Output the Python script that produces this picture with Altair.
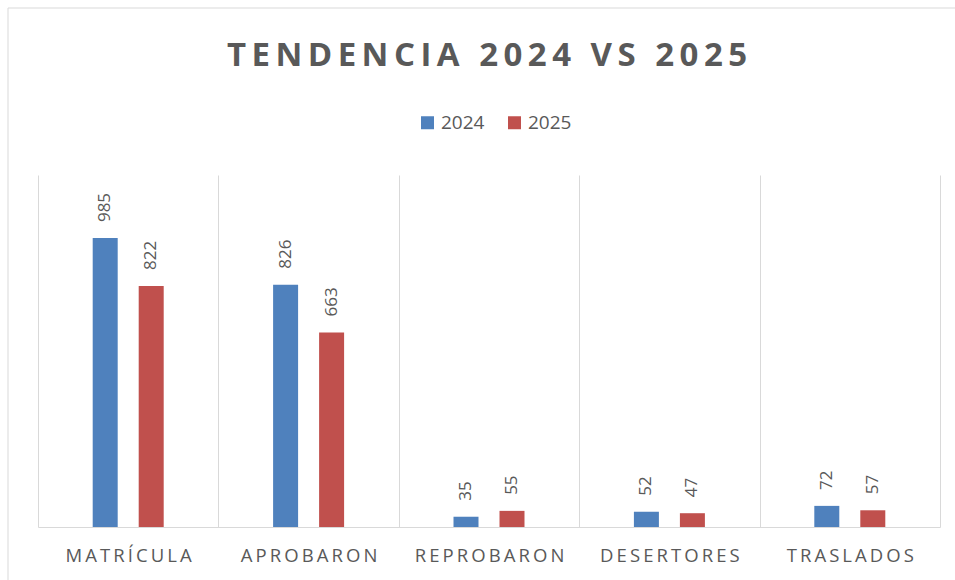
import altair as alt
import pandas as pd

categories = ["MATRÍCULA", "APROBARON", "REPROBARON", "DESERTORES", "TRASLADOS"]
values_2024 = [985, 826, 35, 52, 72]
values_2025 = [822, 663, 55, 47, 57]
years = ["2024", "2025"]
colors = ["#4F81BD", "#C0504D"]
title_text = "TENDENCIA 2024 VS 2025"

rows = []
for c, a, b in zip(categories, values_2024, values_2025):
    rows.append({"categoria": c, "anio": years[0], "valor": a})
    rows.append({"categoria": c, "anio": years[1], "valor": b})
df = pd.DataFrame(rows)

TS = "\u2009"
FONT = "Open Sans"
GRAY = "#595959"
GRID = "#D9D9D9"

x = alt.X(
    "categoria:N",
    sort=categories,
    scale=alt.Scale(paddingInner=0, paddingOuter=0),
    axis=alt.Axis(
        title=None, labelAngle=0, ticks=False, tickSize=0, tickBand="extent",
        grid=True, gridColor=GRID, gridWidth=1, domainColor=GRID, domainWidth=1,
        labelFontSize=18.5, labelColor=GRAY, labelFont=FONT, labelPadding=19,
        labelBaseline="top", labelExpr="join(split(datum.label, ''), '" + TS + "')",
    ),
)
y = alt.Y("valor:Q", scale=alt.Scale(domain=[0, 1200], nice=False), axis=None)
xo = alt.XOffset(
    "anio:N", sort=years,
    scale=alt.Scale(range=[54.7, 125.7], paddingInner=0.4565, paddingOuter=0),
)

base = alt.Chart(df).encode(x=x, xOffset=xo, y=y)

bars = base.mark_bar().encode(
    color=alt.Color(
        "anio:N",
        scale=alt.Scale(domain=years, range=colors),
        legend=alt.Legend(
            title=None, orient="none", legendX=380, legendY=-62, direction="horizontal",
            symbolType="square", symbolSize=169, symbolStrokeWidth=0,
            labelFontSize=19, labelFont=FONT, labelColor=GRAY,
            columnPadding=20, labelOffset=4, padding=0,
        ),
    )
)

labels = base.mark_text(
    angle=270, align="left", baseline="middle", dx=16,
    font=FONT, fontSize=17, color=GRAY,
).encode(text="valor:Q")

frame = alt.Chart(pd.DataFrame({"k": [0]})).mark_rect(
    fill="transparent", stroke=GRID, strokeWidth=1
).encode(x=alt.value(-30), y=alt.value(-167), x2=alt.value(940), y2=alt.value(420))

chart = alt.layer(frame, bars, labels).properties(
    width=902,
    height=352,
    title=alt.Title(
        TS.join(title_text), font=FONT, fontSize=33, fontWeight="bold", color=GRAY,
        anchor="middle", frame="group", offset=-91, baseline="alphabetic", dx=-2,
    ),
    padding={"left": 38, "top": 175, "right": 15, "bottom": 53},
    autosize=alt.AutoSizeParams(type="none"),
).configure_view(stroke="transparent")

chart.save("out.html", embed_options={"renderer": "svg", "actions": False})
